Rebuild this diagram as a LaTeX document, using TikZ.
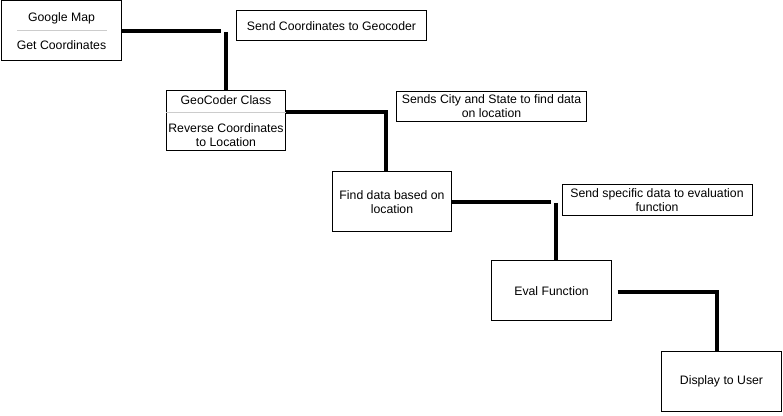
\documentclass[tikz,border=0pt]{standalone}
\usepackage{fontspec}
\setmainfont{Liberation Sans}
\usetikzlibrary{positioning, calc}

\begin{document}
\begin{tikzpicture}[x=0.75pt, y=-0.75pt]
\tikzset{proc/.style={draw, rectangle, line width=0.75pt, minimum width=89.5pt, minimum height=45pt, inner sep=0pt, align=center, font=\fontsize{9.2}{10.5}\selectfont},
  note/.style={draw, rectangle, line width=0.75pt, minimum width=142.5pt, minimum height=22.5pt, inner sep=0pt, align=center, font=\fontsize{9.2}{10.5}\selectfont},
  link/.style={line width=3pt},
  divider/.style={draw=black!20, line width=0.75pt}}
\useasboundingbox (0,0) rectangle (783,416);
\node[proc] (gmap) at (61.5,31) {Google Map\\[11pt]Get Coordinates};
\node[proc] (geo) at (226,121) {GeoCoder Class\\[11pt]Reverse Coordinates\\to Location};
\node[proc] (find) at (392,202) {Find data based on\\location};
\node[proc] (eval) at (551.5,291) {Eval Function};
\node[proc] (disp) at (721.5,381.5) {Display to User};
\node[note] (n1) at (331.5,26) {Send Coordinates to Geocoder};
\node[note] (n2) at (491.5,106.5) {Sends City and State to find data\\on location};
\node[note, minimum height=23.25pt] (n3) at (657,200.5) {Send specific data to evaluation\\function};
\draw[divider] ([xshift=12pt]gmap.west) -- ([xshift=-11pt]gmap.east);
\draw[divider] ([yshift=6pt]geo.west) -- ([yshift=6pt]geo.east);
% connectors
\coordinate (c1) at (221,31); \coordinate (c1b) at (226,32);
\coordinate (c2) at (386,112);
\coordinate (c3) at (551,202); \coordinate (c3b) at (556,203);
\coordinate (c4) at (717,292);
\draw[link] (gmap.east) -- (c1); \draw[link] (c1b) -- (geo.north);
\draw[link] (geo.east |- c2) -- (c2) -- (c2 |- find.north);
\draw[link] (find.east) -- (c3); \draw[link] (c3b) -- (c3b |- eval.north);
\draw[link] ([xshift=4.5pt]eval.east |- c4) -- (c4) -- (c4 |- disp.north);
\end{tikzpicture}
\end{document}
